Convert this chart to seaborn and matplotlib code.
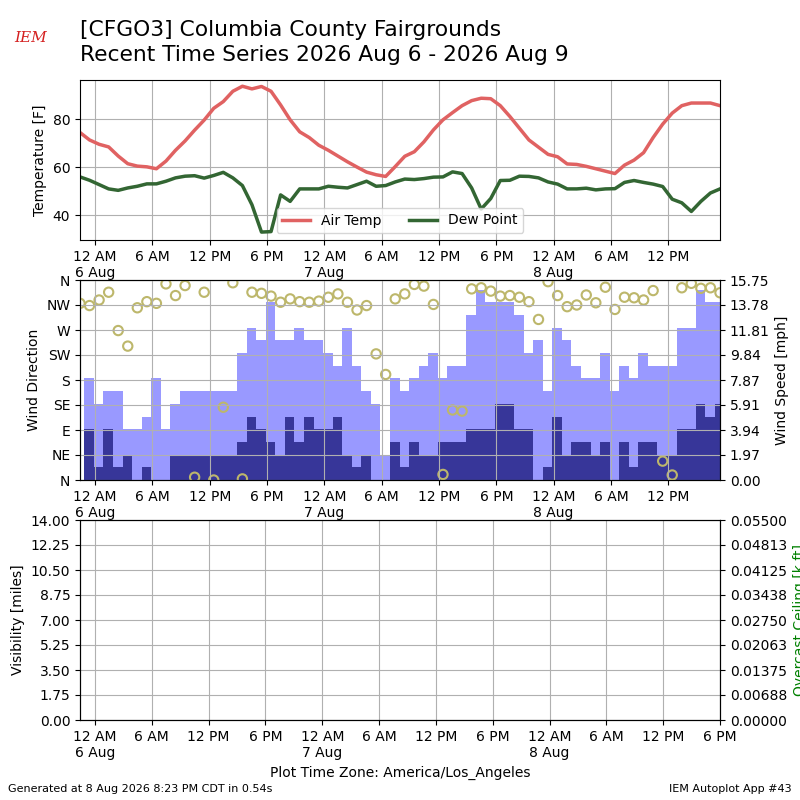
import matplotlib
matplotlib.use("Agg")
import matplotlib.pyplot as plt
import matplotlib.dates as mdates
import matplotlib.ticker as mticker
import numpy as np
import pandas as pd
import seaborn as sns

# hourly observations, 2026-08-05 22:25 -> 2026-08-08 17:25 (America/Los_Angeles)
obs_times = pd.date_range("2026-08-05 22:25", periods=68, freq="h")

air_temp = [
    74.4, 71.3, 69.5, 68.4, 64.6, 61.4, 60.4, 60.1, 59.3, 62.5,
    67.0, 70.9, 75.4, 79.6, 84.5, 87.3, 91.6, 93.7, 92.6, 93.6,
    91.6, 85.9, 79.7, 74.7, 72.3, 69.1, 67.0, 64.6, 62.2, 60.0,
    57.9, 56.8, 56.1, 60.2, 64.5, 66.4, 70.5, 75.5, 79.7, 82.7,
    85.6, 87.7, 88.7, 88.5, 85.6, 81.1, 76.2, 71.3, 68.3, 65.3,
    64.3, 61.3, 61.1, 60.3, 59.3, 58.3, 57.3, 60.8, 62.9, 66.0,
    72.3, 77.9, 82.5, 85.6, 86.7, 86.7, 86.7, 85.6,
]
dew_point = [
    55.9, 54.5, 52.7, 50.9, 50.3, 51.3, 52.0, 53.0, 53.0, 54.1,
    55.5, 56.2, 56.4, 55.4, 56.5, 57.8, 55.5, 52.3, 44.3, 32.9,
    33.1, 48.4, 45.7, 50.9, 50.9, 50.9, 52.0, 51.6, 51.3, 52.7,
    54.1, 52.0, 52.3, 53.8, 55.0, 54.8, 55.2, 55.8, 55.9, 58.0,
    57.3, 51.3, 42.5, 46.9, 54.4, 54.5, 56.2, 56.1, 55.5, 53.8,
    52.9, 50.9, 50.9, 51.2, 50.5, 50.9, 51.0, 53.6, 54.4, 53.6,
    52.9, 51.9, 46.6, 45.1, 41.5, 45.7, 49.2, 50.9,
]
wind_dir = [
    318, 314, 324, 338, 269, 241, 310, 321, 318, 353,
    332, 350, 5, 338, 0, 131, 355, 2, 338, 336,
    331, 320, 326, 321, 320, 322, 329, 335, 320, 306,
    314, 227, 190, 326, 335, 352, 349, 316, 10, 126,
    124, 344, 346, 340, 331, 332, 329, 321, 289, 357,
    332, 312, 315, 333, 319, 347, 307, 329, 328, 324,
    341, 34, 9, 346, 354, 345, 346, 337,
]

# hourly wind bars
bar_times = pd.date_range("2026-08-05 22:52", periods=67, freq="h")
wind_gust = [
    8, 6, 7, 7, 4, 4, 5, 8, 4, 6, 7, 7, 7, 7, 7, 7, 10, 12, 11, 14,
    11, 11, 12, 11, 11, 10, 9, 12, 9, 7, 6, 2, 8,
    7, 8, 9, 10, 8, 9, 9, 13, 15, 14, 14, 14, 13, 10, 11, 7, 12, 11,
    9, 8, 8, 10, 7, 9, 8, 10, 9, 9, 9, 12, 12, 15, 14, 14,
]
wind_speed = [
    4, 1, 4, 1, 2, 0, 1, 0, 0, 2, 2, 2, 2, 2, 2, 2, 3, 5, 4, 3,
    2, 5, 3, 5, 4, 4, 5, 2, 1, 2, 0, 0, 3,
    1, 3, 2, 2, 3, 3, 3, 4, 4, 4, 6, 6, 4, 4, 0, 1, 5, 2, 3, 3,
    2, 3, 0, 3, 1, 3, 3, 2, 2, 4, 4, 6, 5, 6,
]

dir_labels = ["N", "NE", "E", "SE", "S", "SW", "W", "NW", "N"]
speed_labels = ["0.00", "1.97", "3.94", "5.91", "7.87", "9.84", "11.81",
                "13.78", "15.75"]

TEMP_COLOR = "#e06262"
DEW_COLOR = "#336633"
GUST_COLOR = "#9999ff"
SPEED_COLOR = "#373699"
DIR_COLOR = "#bdb76b"


def _time_fmt(x, pos=None):
    d = mdates.num2date(x)
    names = {0: "12 AM", 6: "6 AM", 12: "12 PM", 18: "6 PM"}
    label = names.get(d.hour, "")
    if d.hour == 0:
        label += f"\n{d.day} {d.strftime('%b')}"
    return label


def _time_axis(ax, start, end):
    ax.set_xlim(start, end)
    ax.xaxis.set_major_locator(mdates.HourLocator(byhour=[0, 6, 12, 18]))
    ax.xaxis.set_major_formatter(mticker.FuncFormatter(_time_fmt))
    ax.set_xlabel("")


df = pd.DataFrame({"valid": obs_times, "tmpf": air_temp, "dwpf": dew_point,
                   "drct": wind_dir})
bars = pd.DataFrame({"valid": bar_times, "gust": wind_gust, "sknt": wind_speed})

fig = plt.figure(figsize=(8, 8), dpi=100)

fig.text(0.1, 0.975, "[CFGO3] Columbia County Fairgrounds\n"
         "Recent Time Series 2026 Aug 6 - 2026 Aug 9",
         fontsize=15.7, va="top", ha="left", linespacing=1.3)
fig.text(0.038, 0.953, "IEM", color="#d42020", fontsize=11, style="italic",
         family="serif", ha="center", va="center")

# --- temperature ---------------------------------------------------------
ax1 = fig.add_axes([0.1, 0.7, 0.8, 0.2])
sns.lineplot(data=df, x="valid", y="tmpf", ax=ax1, color=TEMP_COLOR,
             linewidth=2.5, label="Air Temp")
sns.lineplot(data=df, x="valid", y="dwpf", ax=ax1, color=DEW_COLOR,
             linewidth=2.5, label="Dew Point")
ax1.set_ylim(29.6, 96.3)
ax1.set_yticks([40, 60, 80])
ax1.set_ylabel("Temperature [F]")
ax1.grid(True)
ax1.legend(loc="lower center", ncol=2)
_time_axis(ax1, obs_times[0], obs_times[-1])

# --- wind ----------------------------------------------------------------
ax2 = fig.add_axes([0.1, 0.4, 0.8, 0.25])
ax2b = ax2.twinx()
ax2b.bar(bars["valid"], bars["gust"], width=1 / 24.0, align="edge",
         color=GUST_COLOR, linewidth=0)
ax2b.bar(bars["valid"], bars["sknt"], width=1 / 24.0, align="edge",
         color=SPEED_COLOR, linewidth=0)
ax2b.set_ylim(0, 15.75)
ax2b.set_yticks(np.linspace(0, 15.75, 9))
ax2b.set_yticklabels(speed_labels)
ax2b.set_ylabel("Wind Speed [mph]")

sc = sns.scatterplot(data=df, x="valid", y="drct", ax=ax2, marker="o", s=45)
coll = sc.collections[-1]
coll.set_facecolor("none")
coll.set_edgecolor(DIR_COLOR)
coll.set_linewidth(1.5)
ax2.set_ylim(0, 360)
ax2.set_yticks(range(0, 361, 45))
ax2.set_yticklabels(dir_labels)
ax2.set_ylabel("Wind Direction")
ax2.grid(True)
ax2.set_zorder(ax2b.get_zorder() + 1)
ax2.patch.set_visible(False)
_time_axis(ax2, obs_times[0], obs_times[-1])

# --- visibility / ceiling (no data) -------------------------------------
ax3 = fig.add_axes([0.1, 0.1, 0.8, 0.25])
ax3.set_ylim(0, 14)
ax3.set_yticks(np.linspace(0, 14, 9))
ax3.yaxis.set_major_formatter(mticker.FormatStrFormatter("%.2f"))
ax3.set_ylabel("Visibility [miles]")
ax3.grid(True)
_time_axis(ax3, obs_times[0], pd.Timestamp("2026-08-08 18:00"))
ax3.set_xlabel("Plot Time Zone: America/Los_Angeles")
ax3b = ax3.twinx()
ax3b.set_ylim(0, 0.055)
ax3b.set_yticks(np.linspace(0, 0.055, 9))
ax3b.yaxis.set_major_formatter(mticker.FormatStrFormatter("%.5f"))
ax3b.set_ylabel("Overcast Ceiling [k ft]", color="g")

fig.text(0.01, 0.008, "Generated at 8 Aug 2026 8:23 PM CDT in 0.54s",
         fontsize=8, ha="left", va="bottom")
fig.text(0.99, 0.008, "IEM Autoplot App #43", fontsize=8, ha="right",
         va="bottom")

fig.savefig("out.png", dpi=100)
